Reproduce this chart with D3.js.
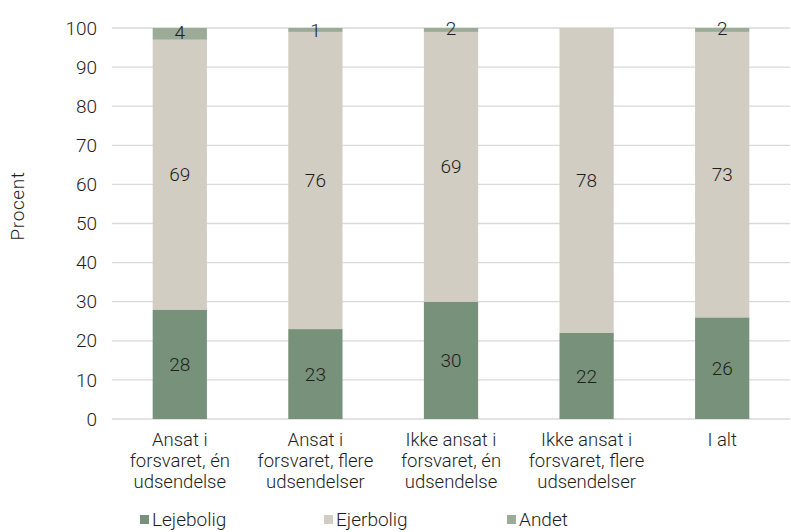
<!DOCTYPE html>
<html><head><meta charset="utf-8">
<script src="https://cdn.jsdelivr.net/npm/d3@7"></script>
<style>body{margin:0;background:#fff}svg{display:block;font-family:Roboto,"DejaVu Sans",sans-serif}</style>
</head><body>
<script>
const categories = [["Ansat i","forsvaret, én","udsendelse"],["Ansat i","forsvaret, flere","udsendelser"],["Ikke ansat i","forsvaret, én","udsendelse"],["Ikke ansat i","forsvaret, flere","udsendelser"],["I alt"]];
const seriesNames = ["Lejebolig","Ejerbolig","Andet"];
const lejebolig = [28,23,30,22,26];
const ejerbolig = [69,76,69,78,73];
const andet = [4,1,2,0.3,2];
const colors = ["#78917a","#d1cdc3","#9bab98"];
const yTicks = [0,10,20,30,40,50,60,70,80,90,100];

const W=791,H=532, m={l:112,r:1,t:28,b:113};
const FS=19, TXT="#1e1e1e";
const svg=d3.select("body").append("svg").attr("width",W).attr("height",H);
const x=d3.scaleBand().domain(d3.range(categories.length)).range([m.l,W-m.r]).paddingInner(0.6).paddingOuter(0.3);
const y=d3.scaleLinear().domain([0,100]).range([H-m.b,m.t]);

// grid
svg.append("g").selectAll("line").data(yTicks).join("line")
 .attr("x1",m.l).attr("x2",W-m.r).attr("y1",d=>y(d)).attr("y2",d=>y(d))
 .attr("stroke","#d9d9d9").attr("stroke-width",1.3);
svg.append("g").selectAll("text").data(yTicks).join("text")
 .attr("x",97).attr("y",d=>y(d)).attr("dy","0.35em").attr("text-anchor","end")
 .attr("font-size",FS).attr("font-weight",300).attr("fill",TXT).text(d=>d);

svg.append("defs").append("clipPath").attr("id","clip").append("rect")
 .attr("x",0).attr("y",y(100)).attr("width",W).attr("height",y(0)-y(100));

const data=categories.map((c,i)=>({i,Lejebolig:lejebolig[i],Ejerbolig:ejerbolig[i],Andet:andet[i]}));
const stack=d3.stack().keys(seriesNames)(data);
const gb=svg.append("g").attr("clip-path","url(#clip)");
stack.forEach((s,k)=>{
  gb.selectAll(null).data(s).join("rect")
   .attr("x",d=>x(d.data.i)).attr("width",x.bandwidth())
   .attr("y",d=>y(d[1])).attr("height",d=>y(d[0])-y(d[1])).attr("fill",colors[k]);
});
stack.forEach((s,k)=>{
  svg.selectAll(null).data(s.filter(d=>d[1]-d[0]>=0.5)).join("text")
   .attr("x",d=>x(d.data.i)+x.bandwidth()/2).attr("y",d=>y((d[0]+d[1])/2)).attr("dy","0.35em")
   .attr("text-anchor","middle").attr("font-size",FS).attr("font-weight",300).attr("fill",TXT)
   .text(d=>Math.round(d[1]-d[0]));
});

// category labels (one text per line)
const gl=svg.append("g");
categories.forEach((c,i)=>{
  c.forEach((line,j)=>gl.append("text").attr("text-anchor","middle").attr("font-size",18.5).attr("font-weight",300).attr("fill",TXT)
    .attr("x",x(i)+x.bandwidth()/2).attr("y",y(0)+27+j*21).text(line));
});

// y title
svg.append("text").attr("transform",`translate(24,206) rotate(-90)`)
 .attr("text-anchor","middle").attr("font-size",19).attr("font-weight",300).attr("fill",TXT)
 .attr("letter-spacing",0.6).text("Procent");

// legend
const legX=[140,324,507];
seriesNames.forEach((n,k)=>{
  svg.append("rect").attr("x",legX[k]).attr("y",515).attr("width",9).attr("height",9).attr("fill",colors[k]);
  svg.append("text").attr("x",legX[k]+12).attr("y",519).attr("dy","0.35em").attr("font-size",FS).attr("font-weight",300).attr("fill",TXT).text(n);
});
</script>
</body></html>
